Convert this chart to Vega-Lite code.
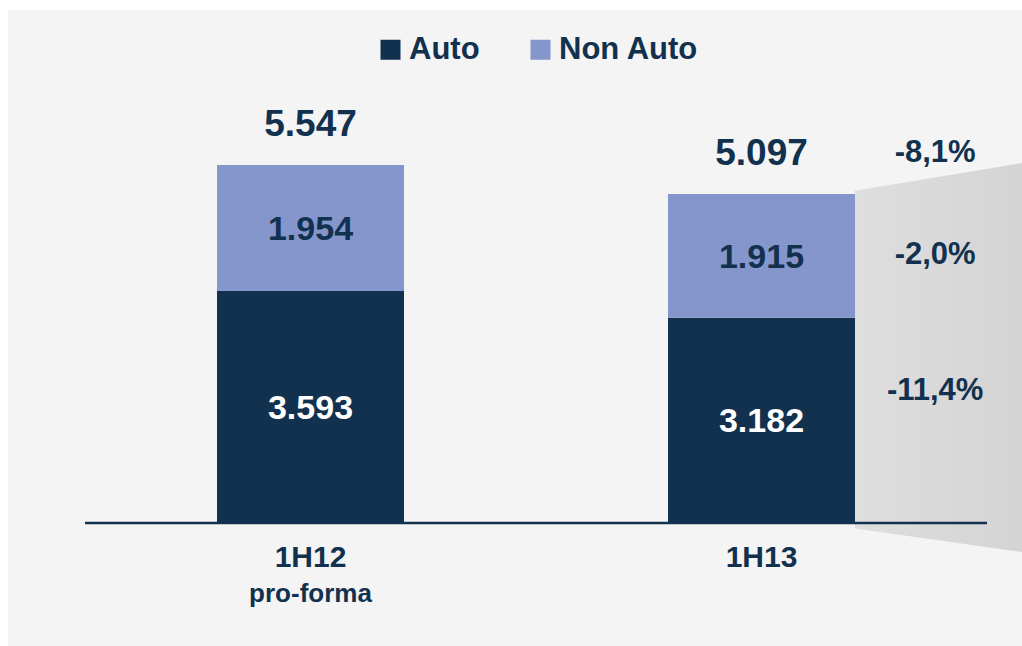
{
  "$schema": "https://vega.github.io/schema/vega-lite/v6.json",
  "width": 1014,
  "height": 636,
  "autosize": {"type": "none"},
  "padding": {"left": 8, "top": 10, "right": 0, "bottom": 0},
  "background": "#ffffff",
  "config": {
    "view": {"fill": "#f4f4f4", "stroke": null},
    "scale": {"continuousPadding": 0},
    "locale": {"number": {"decimal": ",", "thousands": ".", "grouping": [3], "currency": ["", " €"], "minus": "-"}},
    "text": {"font": "Liberation Sans", "fontWeight": "bold", "color": "#12314f"}
  },
  "datasets": {
    "bars": [
      {"period": "1H12", "slot": 1, "series": "Auto", "value": 3593},
      {"period": "1H12", "slot": 1, "series": "Non Auto", "value": 1954},
      {"period": "1H13", "slot": 2, "series": "Auto", "value": 3182},
      {"period": "1H13", "slot": 2, "series": "Non Auto", "value": 1915}
    ],
    "periods": [
      {"period": "1H12", "slot": 1, "sub": "pro-forma"},
      {"period": "1H13", "slot": 2, "sub": ""}
    ],
    "funnel": [
      {"edge": "left", "slot": 2.207, "top": 5150, "bottom": -85},
      {"edge": "right", "slot": 2.5776, "top": 5578, "bottom": -449}
    ],
    "changes": [
      {"series": "Total", "label": "-8,1%", "slot": 2.385, "anchor": 5590},
      {"series": "Non Auto", "label": "-2,0%", "slot": 2.385, "anchor": 4020},
      {"series": "Auto", "label": "-11,4%", "slot": 2.385, "anchor": 1912}
    ]
  },
  "layer": [
    {
      "data": {"name": "funnel"},
      "mark": {
        "type": "area",
        "color": {"gradient": "linear", "x1": 0, "x2": 1, "y1": 0, "y2": 0,
          "stops": [{"offset": 0, "color": "#dedede"}, {"offset": 1, "color": "#d4d4d4"}]}
      },
      "encoding": {
        "x": {"field": "slot", "type": "quantitative", "scale": {"domain": [0.32927, 2.57761], "nice": false, "zero": false, "padding": 0}, "axis": null},
        "y": {"field": "top", "type": "quantitative", "scale": {"domain": [-1906, 7949], "nice": false, "zero": false}, "axis": null},
        "y2": {"field": "bottom"}
      }
    },
    {
      "data": {"name": "bars"},
      "mark": {"type": "bar", "width": 187},
      "encoding": {
        "x": {"field": "slot", "type": "quantitative", "scale": {"domain": [0.32927, 2.57761], "nice": false, "zero": false, "padding": 0}, "axis": null},
        "y": {"field": "value", "type": "quantitative", "stack": "zero", "scale": {"domain": [-1906, 7949], "nice": false, "zero": false}, "axis": null},
        "color": {
          "field": "series", "type": "nominal",
          "scale": {"domain": ["Auto", "Non Auto"], "range": ["#12314f", "#8496cc"]},
          "legend": {
            "orient": "none", "legendX": 367, "legendY": 24, "direction": "horizontal",
            "title": null, "symbolType": "square", "symbolSize": 400, "symbolStrokeWidth": 0,
            "labelFontSize": 31, "labelFont": "Liberation Sans", "labelFontWeight": "bold",
            "labelColor": "#12314f", "labelOffset": 3, "columnPadding": 45, "padding": 0
          }
        },
        "order": {"field": "series"}
      }
    },
    {
      "data": {"values": [{}]},
      "mark": {"type": "rule", "color": "#12314f", "strokeWidth": 2.5},
      "encoding": {
        "x": {"datum": 0.5, "type": "quantitative", "scale": {"domain": [0.32927, 2.57761], "nice": false, "zero": false, "padding": 0}, "axis": null},
        "x2": {"datum": 2.5},
        "y": {"datum": 0, "type": "quantitative", "scale": {"domain": [-1906, 7949], "nice": false, "zero": false}, "axis": null}
      }
    },
    {
      "data": {"name": "bars"},
      "transform": [
        {"window": [{"op": "sum", "field": "value", "as": "cum"}], "groupby": ["period"], "sort": [{"field": "series"}], "frame": [null, 0]},
        {"calculate": "datum.cum - datum.value / 2", "as": "mid"}
      ],
      "mark": {"type": "text", "fontSize": 34, "baseline": "middle", "align": "center", "dy": 2},
      "encoding": {
        "x": {"field": "slot", "type": "quantitative", "scale": {"domain": [0.32927, 2.57761], "nice": false, "zero": false, "padding": 0}, "axis": null},
        "y": {"field": "mid", "type": "quantitative", "scale": {"domain": [-1906, 7949], "nice": false, "zero": false}, "axis": null},
        "text": {"field": "value", "type": "quantitative", "format": ",d"},
        "fill": {"condition": {"test": "datum.series === 'Auto'", "value": "#ffffff"}, "value": "#12314f"}
      }
    },
    {
      "data": {"name": "bars"},
      "transform": [{"aggregate": [{"op": "sum", "field": "value", "as": "total"}], "groupby": ["period", "slot"]}],
      "mark": {"type": "text", "fontSize": 37, "baseline": "alphabetic", "align": "center", "dy": -29},
      "encoding": {
        "x": {"field": "slot", "type": "quantitative", "scale": {"domain": [0.32927, 2.57761], "nice": false, "zero": false, "padding": 0}, "axis": null},
        "y": {"field": "total", "type": "quantitative", "scale": {"domain": [-1906, 7949], "nice": false, "zero": false}, "axis": null},
        "text": {"field": "total", "type": "quantitative", "format": ",d"}
      }
    },
    {
      "data": {"name": "periods"},
      "mark": {"type": "text", "fontSize": 30, "baseline": "alphabetic", "align": "center"},
      "encoding": {
        "x": {"field": "slot", "type": "quantitative", "scale": {"domain": [0.32927, 2.57761], "nice": false, "zero": false, "padding": 0}, "axis": null},
        "y": {"datum": -682, "type": "quantitative", "scale": {"domain": [-1906, 7949], "nice": false, "zero": false}, "axis": null},
        "text": {"field": "period"}
      }
    },
    {
      "data": {"name": "periods"},
      "mark": {"type": "text", "fontSize": 26, "baseline": "alphabetic", "align": "center"},
      "encoding": {
        "x": {"field": "slot", "type": "quantitative", "scale": {"domain": [0.32927, 2.57761], "nice": false, "zero": false, "padding": 0}, "axis": null},
        "y": {"datum": -1224, "type": "quantitative", "scale": {"domain": [-1906, 7949], "nice": false, "zero": false}, "axis": null},
        "text": {"field": "sub"}
      }
    },
    {
      "data": {"name": "changes"},
      "mark": {"type": "text", "fontSize": 31, "baseline": "alphabetic", "align": "center"},
      "encoding": {
        "x": {"field": "slot", "type": "quantitative", "scale": {"domain": [0.32927, 2.57761], "nice": false, "zero": false, "padding": 0}, "axis": null},
        "y": {"field": "anchor", "type": "quantitative", "scale": {"domain": [-1906, 7949], "nice": false, "zero": false}, "axis": null},
        "text": {"field": "label"}
      }
    }
  ]
}
